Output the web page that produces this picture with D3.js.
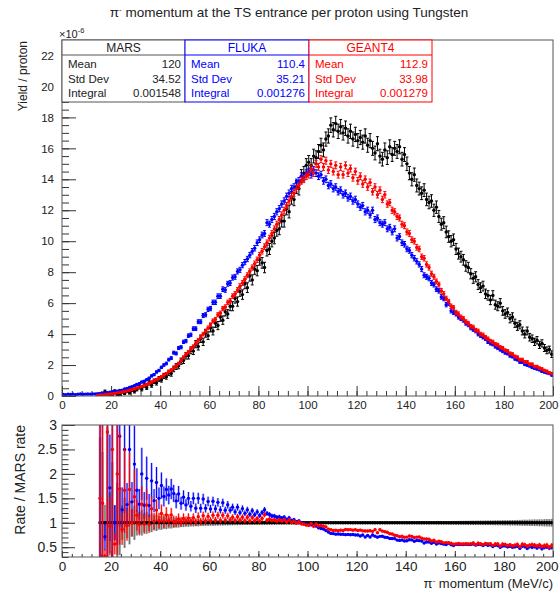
<!DOCTYPE html>
<html><head><meta charset="utf-8">
<script src="https://cdn.jsdelivr.net/npm/d3@7"></script>
<style>
body{margin:0;background:#fff;}
svg text{font-family:"Liberation Sans",Arial,Helvetica,sans-serif;}
</style></head><body>
<svg id="chart" width="559" height="594"></svg>
<script>
// pi- yield per proton in 1 MeV/c bins, 0-200 MeV/c (units of 1e-6)
const mars = [
  0,0,0,0,0,0,0,0,0,0,
  0,0,0,0,0,0.04,0.05,0.28,0.035,0.14,
  0.06,0.3,0.1,0.13,0.3,0.18,0.35,0.22,0.42,0.3,
  0.45,0.58,0.45,0.7,0.55,0.85,0.7,0.95,0.85,1.1,
  1.05,1.3,1.25,1.5,1.45,1.75,1.9,1.95,2.25,2.3,
  2.6,2.6,2.95,2.9,3.35,3.2,3.7,3.5,4.05,3.9,
  4.4,4.2,4.7,4.55,5.1,4.9,5.45,5.3,5.8,5.8,
  6.3,6.1,6.75,6.55,7.25,7.0,7.75,7.5,8.2,8.1,
  8.8,8.6,8.3,9.4,9.5,10.0,10.2,10.7,10.8,11.3,
  11.3,12.1,11.9,12.8,12.7,13.5,13.4,14.2,14.4,14.9,
  15.1,14.9,15.5,15.4,15.8,16.2,15.9,16.6,16.8,17.5,
  17.2,17.6,17.1,17.4,17.0,17.3,16.8,17.1,16.6,16.9,
  16.5,16.7,16.4,16.8,16.2,16.5,16.0,15.7,16.3,15.5,
  15.3,15.9,15.4,16.1,15.6,16.0,15.8,16.1,15.3,15.6,
  15.0,14.4,14.0,14.3,13.6,13.4,13.1,13.3,12.7,12.5,
  12.6,12.0,12.2,11.6,11.1,11.2,10.6,10.3,10.0,10.1,
  9.5,9.2,9.0,8.8,8.4,8.3,7.9,7.6,7.7,7.2,
  7.0,7.1,6.6,6.5,6.2,6.5,5.9,5.8,6.0,5.5,
  5.3,5.4,5.0,5.1,4.7,4.5,4.6,4.2,4.0,4.2,
  3.8,3.7,3.5,3.6,3.3,3.4,3.1,2.95,3.0,2.7
];
const fluka = [
  0.1,0.08,0.11,0.1,0.12,0.09,0.11,0.13,0.11,0.12,
  0.13,0.12,0.14,0.13,0.15,0.16,0.18,0.2,0.22,0.24,
  0.27,0.3,0.31,0.36,0.38,0.45,0.48,0.55,0.6,0.66,
  0.75,0.8,0.9,0.95,1.05,1.15,1.3,1.38,1.55,1.65,
  1.85,2.0,2.1,2.35,2.45,2.8,2.75,3.1,3.15,3.5,
  3.55,3.9,3.95,4.35,4.35,4.8,4.8,5.2,5.25,5.6,
  5.65,6.05,6.05,6.45,6.45,6.9,6.85,7.25,7.3,7.65,
  7.7,8.05,8.15,8.45,8.65,8.85,9.1,9.35,9.55,9.9,
  10.1,10.4,10.5,11.2,11.1,11.4,11.6,11.9,12.1,12.4,
  12.6,12.9,13.1,13.4,13.5,13.8,13.9,14.2,14.1,14.4,
  14.5,14.3,14.6,14.4,14.2,14.3,13.9,14.0,13.6,13.7,
  13.4,13.5,13.2,13.3,13.0,13.1,12.8,12.9,12.6,12.7,
  12.4,12.2,12.3,11.9,12.0,11.7,12.0,11.4,11.5,11.2,
  11.1,11.2,10.8,10.9,10.6,10.8,10.2,10.3,9.9,9.8,
  9.5,9.4,9.1,8.9,8.7,8.5,8.2,7.8,7.7,7.6,
  7.3,7.2,6.9,6.8,6.4,6.3,5.9,6.0,5.5,5.4,
  5.3,5.1,5.0,4.9,4.7,4.6,4.4,4.3,4.2,4.0,
  3.9,3.8,3.7,3.5,3.4,3.35,3.2,3.1,3.0,2.9,
  2.8,2.75,2.6,2.55,2.4,2.35,2.2,2.2,2.05,2.0,
  1.95,1.85,1.8,1.75,1.7,1.6,1.55,1.5,1.45,1.35
];
const geant4 = [
  0,0,0,0,0,0,0,0,0,0,
  0,0,0,0,0.04,0.06,0.07,0.09,0.1,0.13,
  0.15,0.17,0.2,0.22,0.26,0.3,0.33,0.37,0.42,0.46,
  0.52,0.56,0.62,0.68,0.75,0.82,0.9,0.98,1.07,1.15,
  1.25,1.35,1.45,1.57,1.68,1.8,1.95,2.1,2.3,2.5,
  2.7,2.85,3.05,3.2,3.4,3.6,3.8,4.0,4.2,4.4,
  4.6,4.85,4.95,5.25,5.35,5.65,5.75,6.05,6.15,6.45,
  6.6,6.85,7.1,7.3,7.55,7.8,8.05,8.3,8.55,8.8,
  9.1,9.35,9.65,9.9,10.2,10.5,10.8,11.1,11.4,11.7,
  12.0,12.3,12.6,12.9,13.1,13.4,13.6,13.9,14.0,14.2,
  14.3,14.7,14.4,15.0,14.8,15.3,14.8,15.2,14.6,15.0,
  14.5,14.9,14.3,14.8,14.3,14.9,14.4,14.7,14.1,14.5,
  13.9,14.2,13.7,14.0,13.5,13.8,13.2,13.5,13.0,13.3,
  12.7,13.0,12.4,12.5,12.0,11.9,11.6,11.5,11.1,11.0,
  10.6,10.5,10.1,10.0,9.6,9.5,9.0,8.9,8.5,8.3,
  7.9,7.7,7.4,7.2,6.8,6.6,6.3,6.1,5.8,5.7,
  5.4,5.3,5.1,5.0,4.8,4.7,4.5,4.45,4.25,4.2,
  4.0,3.95,3.8,3.7,3.55,3.5,3.35,3.3,3.15,3.1,
  2.95,2.9,2.75,2.7,2.55,2.5,2.35,2.35,2.2,2.2,
  2.05,2.05,1.9,1.9,1.8,1.75,1.65,1.6,1.5,1.45
];

const xTicks = [0,20,40,60,80,100,120,140,160,180,200];
const yTicks = [0,2,4,6,8,10,12,14,16,18,20,22];
const ratioTicks = [0.5,1,1.5,2,2.5,3];

const statNames = ["Mean","Std Dev","Integral"];
const marsStats = ["120","34.52","0.001548"];
const flukaStats = ["110.4","35.21","0.001276"];
const geantStats = ["112.9","33.98","0.001279"];

// statistical uncertainty of each sample (events per 1e-6 yield)
const marsErr = v => Math.sqrt(v / 100) + 0.05;
const simErr = v => Math.sqrt(v / 300);

const series = [
  {name:"MARS", color:"#000000", band:"rgba(120,120,120,0.6)", values:mars, err:marsErr, stats:marsStats},
  {name:"FLUKA", color:"#0000ff", band:"rgba(0,0,255,0.25)", values:fluka, err:simErr, stats:flukaStats},
  {name:"GEANT4", color:"#ff0000", band:"rgba(255,0,0,0.25)", values:geant4, err:simErr, stats:geantStats}
];

const FONT = '"Liberation Sans", Arial, Helvetica, sans-serif';
const TXT = "#222";
const svg = d3.select("#chart");

const L = 62, R = 553;
const x = d3.scaleLinear().domain([0,200]).range([L,R]);
const yT = d3.scaleLinear().domain([0,23]).range([396,40]);
const yR = d3.scaleLinear().domain([0.3,3]).range([557,425]);

const defs = svg.append("defs");
defs.append("clipPath").attr("id","clipTop").append("rect")
  .attr("x",L).attr("y",40).attr("width",R-L).attr("height",356);
defs.append("clipPath").attr("id","clipBot").append("rect")
  .attr("x",L).attr("y",425).attr("width",R-L).attr("height",132);

// title
const title = svg.append("text").attr("x",289).attr("y",17).attr("text-anchor","middle")
  .attr("font-size",13.5).attr("fill",TXT);
title.append("tspan").text("\u03c0");
title.append("tspan").attr("dy",-5).attr("font-size",8).text("-");
title.append("tspan").attr("dy",5).text(" momentum at the TS entrance per proton using Tungsten");

// ---------- upper pad: yields ----------
function styleAxis(g, size){
  g.attr("font-family",FONT).attr("font-size",size).attr("color",TXT);
  g.select(".domain").remove();
  g.selectAll(".tick line").attr("stroke","#333");
  // last label sits against the page edge
  g.selectAll(".tick text").filter(d=>d===200).attr("text-anchor","end").attr("x",5);
}
svg.append("g").attr("transform","translate(0,396)")
  .call(d3.axisBottom(x).tickValues(d3.range(0,201,4)).tickSize(-5).tickFormat(""))
  .call(g=>styleAxis(g,11));
svg.append("g").attr("transform","translate(0,396)")
  .call(d3.axisBottom(x).tickValues(xTicks).tickSize(-10).tickPadding(5).tickFormat(d3.format("d")))
  .call(g=>styleAxis(g,11.5));
svg.append("g").attr("transform",`translate(${L},0)`)
  .call(d3.axisLeft(yT).tickValues(d3.range(0,46).map(d=>d/2)).tickSize(-7).tickFormat(""))
  .call(g=>styleAxis(g,11));
svg.append("g").attr("transform",`translate(${L},0)`)
  .call(d3.axisLeft(yT).tickValues(yTicks).tickSize(-14).tickPadding(8).tickFormat(d3.format("d")))
  .call(g=>styleAxis(g,11.5));

const expo = svg.append("text").attr("x",59).attr("y",38).attr("font-size",11).attr("fill",TXT);
expo.append("tspan").text("\u00d710");
expo.append("tspan").attr("dy",-5).attr("font-size",7.5).text("-6");

svg.append("text").attr("transform","translate(27,41) rotate(-90)").attr("text-anchor","end")
  .attr("font-size",12).attr("fill",TXT).text("Yield / proton");

const topPad = svg.append("g").attr("clip-path","url(#clipTop)");
series.forEach(s=>{
  const pts = s.values.map((v,i)=>({i,v,e:s.err(v)})).filter(d=>d.v>0);
  const g = topPad.append("g").attr("stroke",s.color).attr("fill",s.color).attr("stroke-width",1);
  g.selectAll("line.h").data(pts).join("line").attr("class","h")
    .attr("x1",d=>x(d.i)).attr("x2",d=>x(d.i+1)).attr("y1",d=>yT(d.v)).attr("y2",d=>yT(d.v));
  g.selectAll("line.v").data(pts).join("line").attr("class","v")
    .attr("x1",d=>x(d.i+0.5)).attr("x2",d=>x(d.i+0.5))
    .attr("y1",d=>yT(d.v-d.e)).attr("y2",d=>yT(d.v+d.e));
  g.selectAll("line.cu").data(pts).join("line").attr("class","cu")
    .attr("x1",d=>x(d.i+0.5)-1.5).attr("x2",d=>x(d.i+0.5)+1.5)
    .attr("y1",d=>yT(d.v+d.e)).attr("y2",d=>yT(d.v+d.e));
  g.selectAll("line.cd").data(pts).join("line").attr("class","cd")
    .attr("x1",d=>x(d.i+0.5)-1.5).attr("x2",d=>x(d.i+0.5)+1.5)
    .attr("y1",d=>yT(d.v-d.e)).attr("y2",d=>yT(d.v-d.e));
  g.selectAll("circle").data(pts).join("circle").attr("stroke","none")
    .attr("cx",d=>x(d.i+0.5)).attr("cy",d=>yT(d.v)).attr("r",1.7);
});

svg.append("rect").attr("x",L).attr("y",40).attr("width",R-L).attr("height",356)
  .attr("fill","none").attr("stroke","#555").attr("stroke-width",1);

// statistics boxes
const boxX = [62,185,309,432];
series.forEach((s,k)=>{
  const x0 = boxX[k], x1 = boxX[k+1];
  const g = svg.append("g");
  g.append("rect").attr("x",x0).attr("y",40).attr("width",x1-x0).attr("height",62)
    .attr("fill","#fff").attr("stroke",k===0?"#555":s.color).attr("stroke-width",1);
  g.append("line").attr("x1",x0).attr("x2",x1).attr("y1",55).attr("y2",55)
    .attr("stroke",k===0?"#555":s.color);
  const c = k===0?TXT:s.color;
  g.append("text").attr("x",(x0+x1)/2).attr("y",52).attr("text-anchor","middle")
    .attr("font-size",12).attr("fill",c).text(s.name);
  statNames.forEach((n,j)=>{
    g.append("text").attr("x",x0+6).attr("y",68+j*14.5).attr("font-size",11.5).attr("fill",c).text(n);
    g.append("text").attr("x",x1-4).attr("y",68+j*14.5).attr("text-anchor","end")
      .attr("font-size",11.5).attr("fill",c).text(s.stats[j]);
  });
});

// ---------- lower pad: ratio to MARS ----------
svg.append("g").attr("transform","translate(0,557)")
  .call(d3.axisBottom(x).tickValues(d3.range(0,201,4)).tickSize(-3).tickFormat(""))
  .call(g=>styleAxis(g,13));
svg.append("g").attr("transform","translate(0,557)")
  .call(d3.axisBottom(x).tickValues(xTicks).tickSize(-6).tickPadding(4).tickFormat(d3.format("d")))
  .call(g=>styleAxis(g,13.5));
svg.append("g").attr("transform",`translate(${L},0)`)
  .call(d3.axisLeft(yR).tickValues(d3.range(3,31).map(d=>d/10)).tickSize(-6.5).tickFormat(""))
  .call(g=>styleAxis(g,13));
svg.append("g").attr("transform",`translate(${L},0)`)
  .call(d3.axisLeft(yR).tickValues(ratioTicks).tickSize(-13).tickPadding(5).tickFormat(d3.format("~g")))
  .call(g=>styleAxis(g,14));

svg.append("text").attr("transform","translate(25,425) rotate(-90)").attr("text-anchor","end")
  .attr("font-size",14).attr("fill",TXT).text("Rate / MARS rate");

const xt = svg.append("text").attr("x",R).attr("y",588).attr("text-anchor","end")
  .attr("font-size",13).attr("fill",TXT);
xt.append("tspan").text("\u03c0");
xt.append("tspan").attr("dy",-5).attr("font-size",8).text("-");
xt.append("tspan").attr("dy",5).text(" momentum (MeV/c)");

const botPad = svg.append("g").attr("clip-path","url(#clipBot)");
series.forEach(s=>{
  const pts = [];
  s.values.forEach((v,i)=>{
    const m = mars[i];
    if (m <= 0 || v <= 0) return;
    const rm = marsErr(m)/m;
    const r = v/m;
    const e = s.name==="MARS" ? rm : r*Math.sqrt((s.err(v)/v)**2 + rm*rm);
    pts.push({i,r,e});
  });
  const isRef = s.name==="MARS";
  const g = botPad.append("g");
  g.selectAll("rect").data(pts).join("rect")
    .attr("x",d=>x(d.i)).attr("width",d=>x(d.i+1)-x(d.i))
    .attr("y",d=>yR(d.r+d.e)).attr("height",d=>yR(d.r-d.e)-yR(d.r+d.e))
    .attr("fill",s.band);
  g.selectAll("line.v").data(pts).join("line").attr("class","v")
    .attr("stroke",isRef?"#555":s.color).attr("stroke-width",isRef?0.7:1)
    .attr("x1",d=>x(d.i+0.5)).attr("x2",d=>x(d.i+0.5))
    .attr("y1",d=>yR(d.r-d.e)).attr("y2",d=>yR(d.r+d.e));
  g.selectAll("line.h").data(pts).join("line").attr("class","h").attr("stroke",s.color)
    .attr("stroke-width",isRef?2.5:1)
    .attr("x1",d=>x(d.i)).attr("x2",d=>x(d.i+1)).attr("y1",d=>yR(d.r)).attr("y2",d=>yR(d.r));
  g.selectAll("circle").data(pts).join("circle").attr("fill",s.color)
    .attr("cx",d=>x(d.i+0.5)).attr("cy",d=>yR(d.r)).attr("r",1.7);
});

svg.append("rect").attr("x",L).attr("y",425).attr("width",R-L).attr("height",132)
  .attr("fill","none").attr("stroke","#555").attr("stroke-width",1);
</script>
</body></html>
